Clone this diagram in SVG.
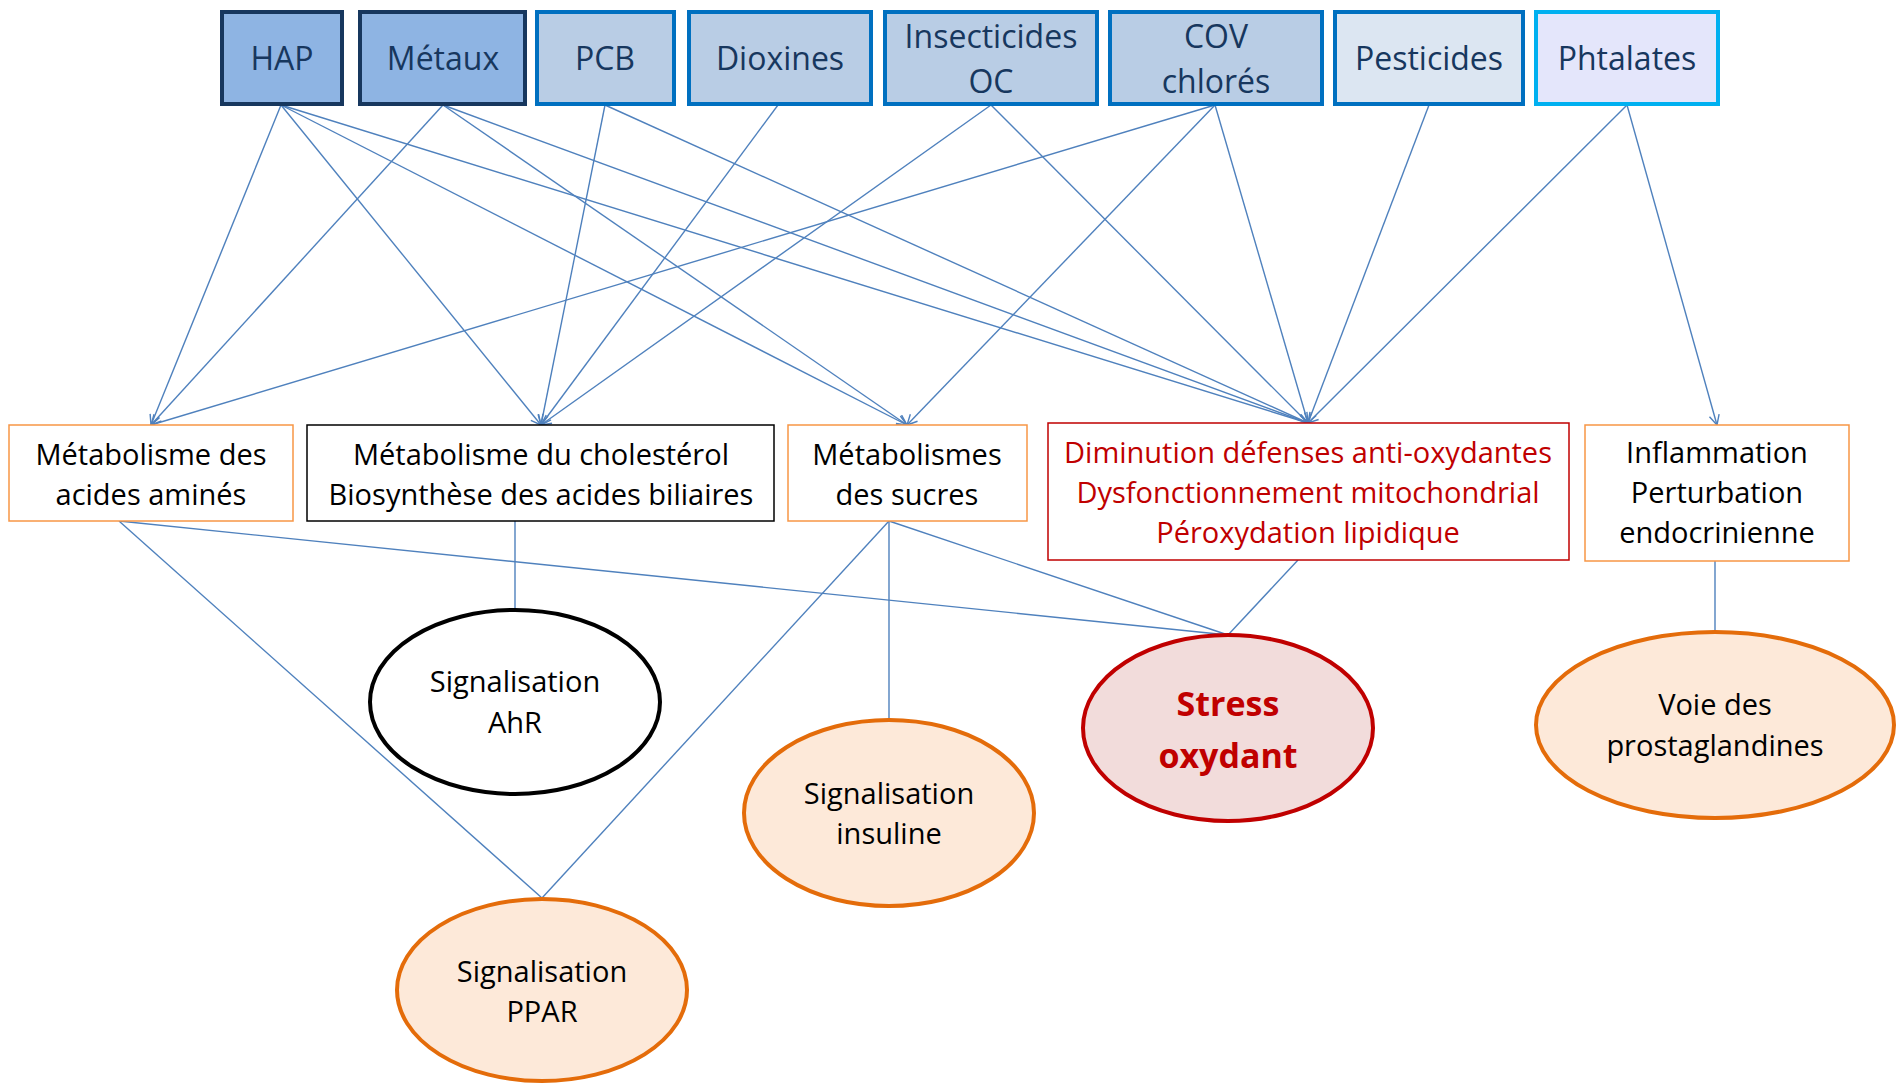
<svg xmlns="http://www.w3.org/2000/svg" width="1897" height="1083" viewBox="0 0 1897 1083">
<style>
.top rect{stroke-width:4}
.top text{font-family:"Open Sans","Liberation Sans",sans-serif;font-size:32px;fill:#17375E;text-anchor:middle}
.mid text{font-family:"Open Sans","Liberation Sans",sans-serif;font-size:29px;fill:#000;text-anchor:middle}
.ell text{font-family:"Open Sans","Liberation Sans",sans-serif;font-size:29px;fill:#000;text-anchor:middle}
.d1{fill:#8EB4E3;stroke:#17375E}
.d2{fill:#B9CDE5;stroke:#0070C0}
.d3{fill:#DCE6F2;stroke:#0070C0}
.d4{fill:#E4E6FB;stroke:#00B0F0}
.orng{fill:#fff;stroke:#F79646;stroke-width:1.5}
.blk{fill:#fff;stroke:#000;stroke-width:1.5}
.redb{fill:#fff;stroke:#C00000;stroke-width:1.5}
.conn line{stroke:#4F81BD;stroke-width:1.4}
.arr line{marker-end:url(#ah)}
</style>
<defs>
<marker id="ah" viewBox="0 0 12 12" refX="11" refY="6" markerWidth="12" markerHeight="12" markerUnits="userSpaceOnUse" orient="auto">
<path d="M1,1 L11,6 L1,11" fill="none" stroke="#4F81BD" stroke-width="1.4"/>
</marker>
</defs>
<rect width="1897" height="1083" fill="#fff"/>
<g class="conn">
<g class="arr">
<line x1="281" y1="105" x2="151" y2="425"/>
<line x1="281" y1="105" x2="541" y2="425"/>
<line x1="281" y1="105" x2="907" y2="425"/>
<line x1="281" y1="105" x2="1308" y2="423"/>
<line x1="443" y1="105" x2="151" y2="425"/>
<line x1="443" y1="105" x2="907" y2="425"/>
<line x1="443" y1="105" x2="1308" y2="423"/>
<line x1="605" y1="105" x2="541" y2="425"/>
<line x1="605" y1="105" x2="1308" y2="423"/>
<line x1="778" y1="105" x2="541" y2="425"/>
<line x1="991" y1="105" x2="541" y2="425"/>
<line x1="991" y1="105" x2="1308" y2="423"/>
<line x1="1215" y1="105" x2="151" y2="425"/>
<line x1="1215" y1="105" x2="907" y2="425"/>
<line x1="1215" y1="105" x2="1308" y2="423"/>
<line x1="1429" y1="105" x2="1308" y2="423"/>
<line x1="1627" y1="105" x2="1308" y2="423"/>
<line x1="1627" y1="105" x2="1717" y2="425"/>
</g>
<line x1="119" y1="521" x2="542" y2="898"/>
<line x1="119" y1="521" x2="1228" y2="635"/>
<line x1="515" y1="521" x2="515" y2="610"/>
<line x1="889" y1="521" x2="542" y2="898"/>
<line x1="889" y1="521" x2="889" y2="720"/>
<line x1="889" y1="521" x2="1228" y2="635"/>
<line x1="1298" y1="560" x2="1228" y2="635"/>
<line x1="1715" y1="561" x2="1715" y2="632"/>
</g>
<g class="top">
<g id="hap"><rect class="d1" x="222" y="12" width="120" height="92"/><text x="282" y="70">HAP</text></g>
<g id="metaux"><rect class="d1" x="360" y="12" width="165" height="92"/><text x="443" y="70">Métaux</text></g>
<g id="pcb"><rect class="d2" x="537" y="12" width="137" height="92"/><text x="605" y="70">PCB</text></g>
<g id="dioxines"><rect class="d2" x="689" y="12" width="182" height="92"/><text x="780" y="70">Dioxines</text></g>
<g id="insecticides"><rect class="d2" x="885" y="12" width="212" height="92"/><text x="991" y="48">Insecticides</text><text x="991" y="93">OC</text></g>
<g id="cov"><rect class="d2" x="1110" y="12" width="212" height="92"/><text x="1216" y="48">COV</text><text x="1216" y="93">chlorés</text></g>
<g id="pesticides"><rect class="d3" x="1335" y="12" width="188" height="92"/><text x="1429" y="70">Pesticides</text></g>
<g id="phtalates"><rect class="d4" x="1536" y="12" width="182" height="92"/><text x="1627" y="70">Phtalates</text></g>
</g>
<g class="mid">
<g id="aa"><rect class="orng" x="9" y="425" width="284" height="96"/><text x="151" y="465">Métabolisme des</text><text x="151" y="505">acides aminés</text></g>
<g id="chol"><rect class="blk" x="307" y="425" width="467" height="96"/><text x="541" y="465">Métabolisme du cholestérol</text><text x="541" y="505">Biosynthèse des acides biliaires</text></g>
<g id="sucres"><rect class="orng" x="788" y="425" width="239" height="96"/><text x="907" y="465">Métabolismes</text><text x="907" y="505">des sucres</text></g>
<g id="oxy"><rect class="redb" x="1048" y="423" width="521" height="137"/><text x="1308" y="463" fill="#C00000" style="fill:#C00000">Diminution défenses anti-oxydantes</text><text x="1308" y="503" style="fill:#C00000">Dysfonctionnement mitochondrial</text><text x="1308" y="543" style="fill:#C00000">Péroxydation lipidique</text></g>
<g id="infl"><rect class="orng" x="1585" y="425" width="264" height="136"/><text x="1717" y="463">Inflammation</text><text x="1717" y="503">Perturbation</text><text x="1717" y="543">endocrinienne</text></g>
</g>
<g class="ell">
<g id="ahr"><ellipse cx="515" cy="702" rx="145" ry="92" fill="#fff" stroke="#000" stroke-width="4"/><text x="515" y="692">Signalisation</text><text x="515" y="733">AhR</text></g>
<g id="insuline"><ellipse cx="889" cy="813" rx="145" ry="93" fill="#FDE9D9" stroke="#E46C0A" stroke-width="4"/><text x="889" y="804">Signalisation</text><text x="889" y="844">insuline</text></g>
<g id="stress"><ellipse cx="1228" cy="728" rx="145" ry="93" fill="#F2DCDB" stroke="#C00000" stroke-width="4"/><text x="1228" y="716" style="font-weight:bold;font-size:34px;fill:#C00000">Stress</text><text x="1228" y="768" style="font-weight:bold;font-size:34px;fill:#C00000">oxydant</text></g>
<g id="prost"><ellipse cx="1715" cy="725" rx="179" ry="93" fill="#FDE9D9" stroke="#E46C0A" stroke-width="4"/><text x="1715" y="715">Voie des</text><text x="1715" y="756">prostaglandines</text></g>
<g id="ppar"><ellipse cx="542" cy="990" rx="145" ry="91" fill="#FDE9D9" stroke="#E46C0A" stroke-width="4"/><text x="542" y="982">Signalisation</text><text x="542" y="1022">PPAR</text></g>
</g>
</svg>
